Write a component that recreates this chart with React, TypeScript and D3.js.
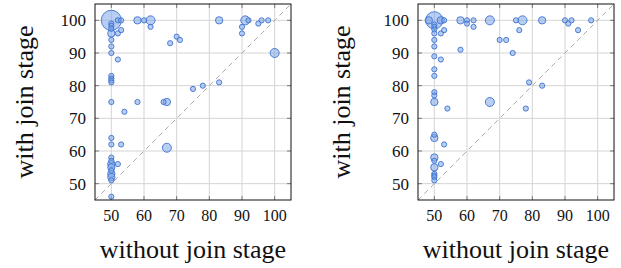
import React from 'react';
import * as d3 from 'd3';

type Pt = [number, number, number]; // [without join, with join, count]

// left panel: [x, y, count]
const leftPoints: Pt[] = [
  [50, 100, 15], [50, 99, 1], [50, 98.3, 1], [50, 97.4, 1], [50, 96, 2], [50, 94, 1],
  [50, 92, 1], [50, 90, 1], [50, 83, 1], [50, 82.2, 1], [50, 81.6, 1], [50, 81, 1],
  [50, 75, 1], [50, 64, 1], [50, 62, 1], [50, 58, 1], [50, 57, 1], [50, 56, 2],
  [50, 55, 2], [50, 54, 1], [50, 53, 2], [50, 52, 2], [50, 51, 1], [50, 46, 1],
  [52, 100, 1], [53, 100, 1], [53, 97, 1], [52, 96, 1], [52, 88, 1], [54, 72, 1],
  [53, 62, 1], [52, 56, 1],
  [58, 100, 2], [60, 100, 1], [62, 100, 3], [62, 98, 1], [68, 93, 1], [70, 95, 1],
  [71, 94, 1], [58, 75, 1], [66, 75, 1], [67, 75, 2], [67, 61, 3], [75, 79, 1],
  [78, 80, 1], [83, 81, 1], [83, 100, 2], [90, 96, 1], [90, 98, 1], [91, 100, 3],
  [92, 100, 1], [95, 99, 1], [96, 100, 1], [98, 100, 1], [100, 90, 3],
];

// right panel: [x, y, count]
const rightPoints: Pt[] = [
  [50, 100, 11], [48.3, 100, 2], [52, 100, 2], [53, 100, 1],
  [50, 98.7, 1], [50, 98, 1], [50, 97.2, 1], [50, 96, 1], [50, 94, 1], [50, 92, 1],
  [50, 89, 1], [50, 85, 1], [50, 83, 1], [50, 78, 1], [50, 77, 1], [50, 75, 2],
  [50, 65, 1], [50, 64, 2], [50, 58, 2], [50, 57, 1], [50, 55, 2], [50, 53, 1],
  [50, 52.5, 1], [50, 52, 1], [50, 51, 1],
  [52, 96, 1], [53, 97, 1], [52, 88, 1], [54, 73, 1], [53, 62, 1], [52, 56, 1],
  [58, 100, 2], [58, 91, 1], [60, 100, 1], [60, 99, 1], [62, 100, 1], [62, 98, 1],
  [67, 100, 3], [67, 75, 3], [70, 94, 1], [72, 94, 1], [74, 90, 1], [75, 100, 1],
  [77, 100, 3], [76, 97, 1], [78, 73, 1], [79, 81, 1], [83, 100, 2], [83, 80, 1],
  [90, 100, 1], [91, 99, 1], [92, 100, 1], [94, 97, 1], [98, 100, 1],
];

const tickValues = [50, 60, 70, 80, 90, 100];
const xLabel = 'without join stage';
const yLabel = 'with join stage';

const SIZE = 196;
const FONT = 'Liberation Serif, DejaVu Serif, serif';

interface PanelProps {
  points: Pt[];
  left: number;
  top: number;
  yLabelX: number;
}

const Panel: React.FC<PanelProps> = ({ points, left, top, yLabelX }) => {
  const x = d3.scaleLinear().domain([45, 105]).range([0, SIZE]);
  const y = d3.scaleLinear().domain([45, 105]).range([SIZE, 0]);
  const r = d3.scaleSqrt().domain([0, 1]).range([0, 2.6]);

  // big counts first so the small ones stay on top
  const sorted = [...points].sort((a, b) => b[2] - a[2]);

  return (
    <g style={{ fontFamily: FONT }}>
      <g transform={`translate(${left},${top})`}>
        {/* grid */}
        {tickValues.map(t => (
          <g key={'g' + t}>
            <line x1={x(t)} x2={x(t)} y1={0} y2={SIZE} stroke="#d4d4d4" strokeWidth={1} />
            <line x1={0} x2={SIZE} y1={y(t)} y2={y(t)} stroke="#d4d4d4" strokeWidth={1} />
          </g>
        ))}
        {/* tick marks inside the frame */}
        {tickValues.map(t => (
          <g key={'t' + t} stroke="#7a7a7a" strokeWidth={1}>
            <line x1={x(t)} x2={x(t)} y1={SIZE} y2={SIZE - 4} />
            <line x1={x(t)} x2={x(t)} y1={0} y2={4} />
            <line x1={0} x2={4} y1={y(t)} y2={y(t)} />
            <line x1={SIZE} x2={SIZE - 4} y1={y(t)} y2={y(t)} />
          </g>
        ))}
        {/* diagonal */}
        <line x1={x(45)} y1={y(45)} x2={x(105)} y2={y(105)} stroke="#a0a0a0"
          strokeWidth={0.9} strokeDasharray="5,4" />
        {/* points */}
        {sorted.map((p, i) => (
          <circle key={i} cx={x(p[0])} cy={y(p[1])} r={r(p[2])}
            fill="#7ea6e8" fillOpacity={0.55} stroke="#3d73d0" strokeWidth={0.9} />
        ))}
        {/* frame */}
        <rect x={0} y={0} width={SIZE} height={SIZE} fill="none" stroke="#111" strokeWidth={1} />
        {/* tick labels */}
        {tickValues.map(t => (
          <text key={'xl' + t} x={x(t)} y={SIZE + 21} textAnchor="middle"
            fontSize={16} fill="#111">{t}</text>
        ))}
        {tickValues.map(t => (
          <text key={'yl' + t} x={-9} y={y(t)} dy="0.35em" textAnchor="end"
            fontSize={17} fill="#111">{t}</text>
        ))}
        <text x={SIZE / 2} y={SIZE + 58} textAnchor="middle" fontSize={26} fill="#111">{xLabel}</text>
      </g>
      <text transform={`translate(${yLabelX},${top + SIZE / 2}) rotate(-90)`}
        textAnchor="middle" fontSize={26} fill="#111">{yLabel}</text>
    </g>
  );
};

export default function App() {
  return (
    <svg width={621} height={268} style={{ position: 'absolute', left: 0, top: 0, background: '#fff' }}>
      <rect width={621} height={268} fill="#fff" />
      <Panel points={leftPoints} left={95} top={4} yLabelX={33} />
      <Panel points={rightPoints} left={418} top={4} yLabelX={350} />
    </svg>
  );
}
